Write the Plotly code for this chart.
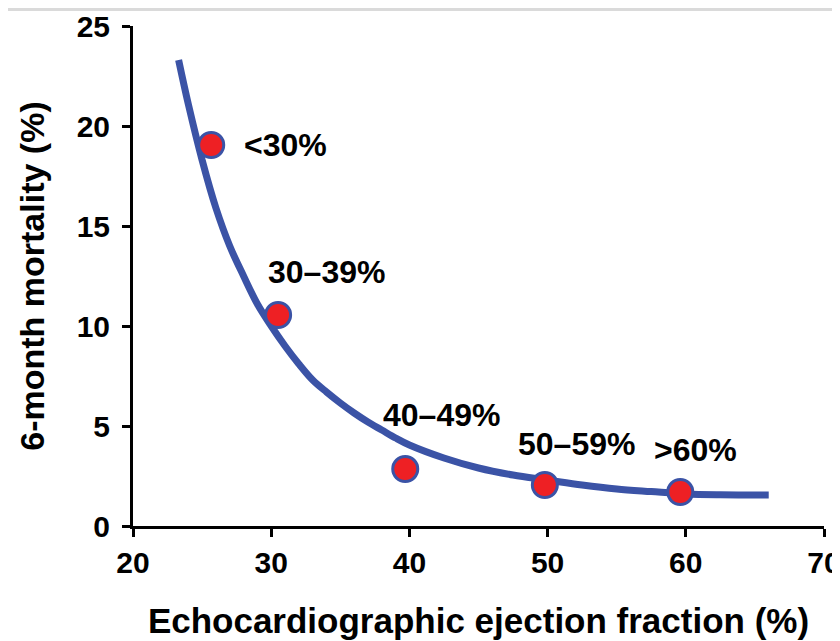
import plotly.graph_objects as go

# Fitted curve
curve_x = [23.3, 24, 25, 26, 27, 28, 29, 30, 31, 32, 33, 34, 35, 36, 37, 38, 39, 40,
           42.5, 45, 47.5, 50, 52.5, 55, 57.5, 60, 62.5, 66]
curve_y = [23.3, 21.1, 18.3, 15.9, 14.0, 12.5, 11.1, 10.0, 9.0, 8.1, 7.3, 6.7, 6.15, 5.65, 5.2, 4.8, 4.4, 4.05,
           3.4, 2.9, 2.55, 2.3, 2.05, 1.85, 1.72, 1.6, 1.56, 1.55]

# Observed groups
group_labels = ["<30%", "30\u201339%", "40\u201349%", "50\u201359%", ">60%"]
group_x = [25.66, 30.5, 39.7, 49.8, 59.6]
group_y = [19.05, 10.55, 2.85, 2.05, 1.7]

# Label positions (data units)
label_x = [27.9, 34.0, 42.3, 52.1, 60.7]
label_y = [19.05, 12.7, 5.55, 4.1, 3.8]
label_anchor = ["left", "center", "center", "center", "center"]

x_ticks = [20, 30, 40, 50, 60, 70]
y_ticks = [0, 5, 10, 15, 20, 25]

BLUE = "#3B53A6"
RED = "#EE2024"
FONT = "Liberation Sans"

fig = go.Figure()
fig.add_trace(go.Scatter(x=curve_x, y=curve_y, mode="lines",
                         line=dict(color=BLUE, width=7, shape="spline", smoothing=1.0),
                         hoverinfo="skip", showlegend=False))
fig.add_trace(go.Scatter(x=group_x, y=group_y, mode="markers",
                         marker=dict(color=RED, size=25, line=dict(color=BLUE, width=3)),
                         text=group_labels, showlegend=False))

for lx, ly, lt, la in zip(label_x, label_y, group_labels, label_anchor):
    fig.add_annotation(x=lx, y=ly, text="<b>%s</b>" % lt, showarrow=False,
                       xanchor=la, yanchor="middle",
                       font=dict(family=FONT, size=32, color="black"))

# screenshot frame artifacts
fig.add_shape(type="line", xref="paper", yref="paper", x0=-0.19, x1=1.03, y0=1.033, y1=1.033,
              line=dict(color="#DADADA", width=3))
fig.add_shape(type="line", xref="paper", yref="paper", x0=1.018, x1=1.018, y0=-0.2, y1=1.03,
              line=dict(color="#CCCCCC", width=2, dash="dot"))

axis_common = dict(showline=True, linecolor="black", linewidth=3, ticks="outside",
                   ticklen=8, tickwidth=3, tickcolor="black", showgrid=False, zeroline=False,
                   automargin=False, ticklabeloverflow="allow",
                   tickfont=dict(family=FONT, size=30, color="black"))

fig.update_xaxes(range=[20, 70], tickvals=x_ticks, ticktext=["<b>%d</b>" % v for v in x_ticks],
                 title=dict(text="<b>Echocardiographic ejection fraction (%)</b>",
                            font=dict(family=FONT, size=35, color="black"), standoff=31),
                 **axis_common)
fig.update_yaxes(range=[0, 25], tickvals=y_ticks, ticktext=["<b>%d</b>" % v for v in y_ticks],
                 ticklabelstandoff=6,
                 title=dict(text="<b>6-month mortality (%)</b>",
                            font=dict(family=FONT, size=34, color="black"), standoff=22),
                 **axis_common)

fig.update_layout(width=832, height=633, margin=dict(l=125, r=16, t=18, b=115),
                  plot_bgcolor="white", paper_bgcolor="white")

fig.write_html("out.html")
